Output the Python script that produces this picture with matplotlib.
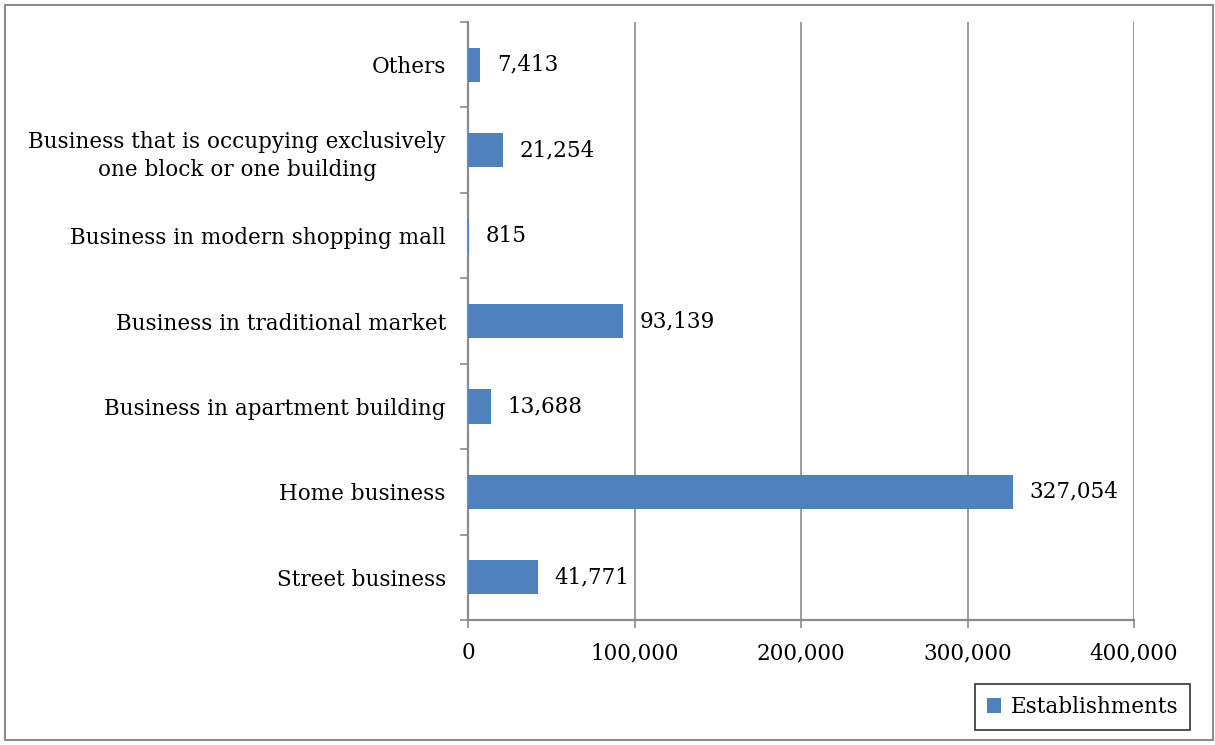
import matplotlib
matplotlib.use("Agg")
import matplotlib.pyplot as plt
from matplotlib.patches import Rectangle
from matplotlib.ticker import FuncFormatter, FixedLocator

plt.rcParams['font.family'] = ['DejaVu Serif']

categories = ["Street business", "Home business", "Business in apartment building",
              "Business in traditional market", "Business in modern shopping mall",
              "Business that is occupying exclusively\none block or one building", "Others"]
values = [41771, 327054, 13688, 93139, 815, 21254, 7413]
xticks = [0, 100000, 200000, 300000, 400000]
series_name = "Establishments"

bar_color = "#4F81BD"
grid_color = "#8C8C8C"
fs = 15.5

fig = plt.figure(figsize=(12.15, 7.45), dpi=100)
ax = fig.add_axes([468/1215, 1-620/745, (1134-468)/1215, (620-22)/745])

ypos = list(range(len(categories)))
bars = ax.barh(ypos, values, height=0.4, color=bar_color, label=series_name, zorder=3)
ax.set_xlim(0, 400000)
ax.set_ylim(-0.5, len(categories)-0.5)
ax.set_yticks(ypos)
ax.set_yticklabels(categories, ha='right', multialignment='center', fontsize=fs, linespacing=1.4)
ax.yaxis.set_minor_locator(FixedLocator([i-0.5 for i in range(len(categories)+1)]))
ax.tick_params(axis='y', which='major', length=0, pad=16)
ax.tick_params(axis='y', which='minor', length=6, color=grid_color, width=1.2)
ax.set_xticks(xticks)
ax.xaxis.set_major_formatter(FuncFormatter(lambda v, p: f"{int(v):,}"))
ax.tick_params(axis='x', length=6, color=grid_color, width=1.2, labelsize=fs, pad=10)
ax.grid(axis='x', color=grid_color, linewidth=1.2, zorder=0)
for s in ['top', 'right']:
    ax.spines[s].set_visible(False)
for s in ['left', 'bottom']:
    ax.spines[s].set_color(grid_color)
    ax.spines[s].set_linewidth(1.6)

for b, v in zip(bars, values):
    ax.annotate(f"{v:,}", (b.get_width(), b.get_y()+b.get_height()/2),
                xytext=(12, 0), textcoords='offset points', va='center', ha='left', fontsize=fs)

leg = ax.legend(loc='lower right', bbox_to_anchor=(1190/1215, 1-730/745), bbox_transform=fig.transFigure,
                fontsize=fs, frameon=True, fancybox=False, handlelength=0.65, handleheight=0.65,
                borderpad=0.55, borderaxespad=0, handletextpad=0.45)
leg.get_frame().set_edgecolor('black')
leg.get_frame().set_linewidth(1.2)

fig.patches.append(Rectangle((5/1215, 5/745), 1208/1215, 735/745, transform=fig.transFigure,
                             fill=False, edgecolor=grid_color, linewidth=1.5))

fig.savefig("out.png", dpi=100)
